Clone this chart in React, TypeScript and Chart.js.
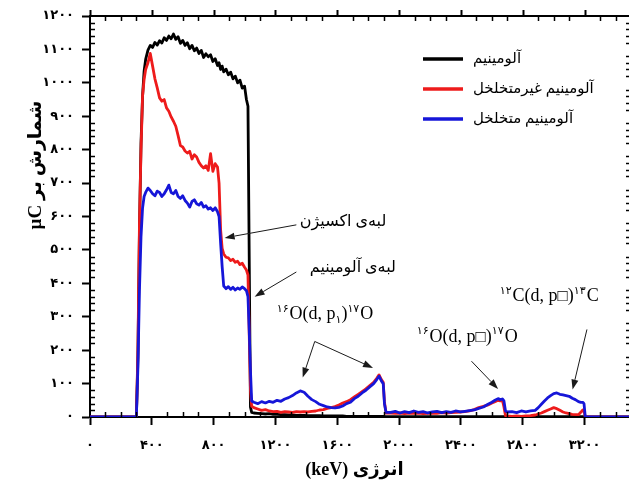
import React, { useEffect, useRef } from 'react';
import { Chart, registerables } from 'chart.js';

Chart.register(...registerables);

// ---------------- data (keV, counts per µC) ----------------
const energy = [
  0, 150, 290, 300, 310, 320, 330, 340, 350, 360,
  375, 390, 405, 420, 435, 450, 465, 480, 495, 510,
  525, 540, 555, 570, 585, 600, 615, 630, 645, 660,
  675, 690, 705, 720, 735, 750, 765, 780, 795, 810,
  825, 835, 845, 855, 865,
  880, 895, 910, 925, 940, 955, 970, 985, 1000,
  1012, 1022, 1030, 1038, 1046,
  1060, 1085, 1110, 1135, 1160, 1185, 1210, 1235, 1260, 1285,
  1310, 1335, 1360, 1385, 1410, 1435, 1460, 1485, 1510, 1535,
  1560, 1585, 1610, 1635, 1660, 1685, 1710, 1735, 1760, 1785,
  1810, 1835, 1855, 1870, 1885, 1897, 1905, 1915,
  1945, 1975, 2005, 2035, 2065, 2095, 2125, 2155, 2185, 2215,
  2245, 2275, 2305, 2335, 2365, 2395, 2425, 2455, 2485, 2515,
  2545, 2575, 2600, 2620, 2640, 2655, 2668, 2678, 2688, 2700,
  2730, 2760, 2790, 2820, 2850, 2880, 2900, 2920, 2940, 2960,
  2980, 3000, 3020, 3040, 3060, 3080, 3100, 3120, 3140, 3160,
  3175, 3188, 3196, 3204, 3250, 3350, 3500,
];

const aluminium = [
  0, 0, 0, 0, 180, 560, 820, 960, 1035, 1070,
  1098, 1112, 1106, 1121, 1113, 1126, 1119, 1135, 1127, 1140,
  1132, 1146, 1130, 1138, 1118, 1127, 1112, 1120, 1102, 1112,
  1096, 1104, 1088, 1097, 1076, 1087, 1078, 1084, 1064, 1072,
  1052, 1060, 1040, 1050, 1033,
  1041, 1024, 1032, 1012, 1020, 1000, 1008, 984, 990,
  950, 930, 480, 30, 14,
  12, 11, 10, 9, 10, 8, 8, 7, 7, 6,
  6, 5, 5, 5, 4, 4, 4, 4, 3, 3,
  3, 3, 3, 3, 2, 2, 2, 2, 2, 2,
  2, 2, 2, 2, 2, 2, 1, 1,
  1, 1, 1, 1, 1, 1, 1, 1, 1, 1,
  1, 1, 1, 1, 1, 1, 1, 1, 1, 1,
  1, 1, 1, 1, 1, 1, 1, 1, 1, 1,
  1, 1, 1, 1, 1, 1, 1, 1, 1, 1,
  1, 1, 1, 1, 1, 1, 1, 1, 1, 1,
  1, 1, 1, 0, 0, 0, 0,
];

const nonPorous = [
  0, 0, 0, 0, 200, 580, 800, 960, 1010, 1040,
  1060, 1088, 1050, 1012, 985, 955, 945, 950, 925, 915,
  898, 885, 870, 842, 812, 808, 796, 790, 795, 772,
  785, 778, 762, 752, 745, 752, 738, 788, 735, 758,
  748, 700, 560, 505, 488,
  478, 476, 468, 472, 463, 466, 456, 460, 448,
  440, 425, 250, 80, 32,
  28, 24, 20, 22, 18, 16, 17, 14, 16, 15,
  14, 16, 15, 16, 15, 17, 18, 21, 22, 26,
  28, 31, 36, 42, 46, 52, 60, 68, 76, 84,
  94, 104, 116, 126, 112, 104, 45, 12,
  12, 11, 12, 10, 12, 11, 12, 10, 11, 12,
  11, 13, 12, 13, 14, 15, 16, 18, 22, 28,
  32, 36, 42, 46, 50, 48, 50, 30, 4, 3,
  2, 3, 2, 3, 4, 6, 9, 12, 16, 20,
  24, 28, 25, 20, 15, 12, 10, 8, 7, 7,
  14, 21, 18, 0, 0, 0, 0,
];

const porous = [
  0, 0, 0, 0, 150, 380, 540, 625, 660, 672,
  685, 678, 668, 662, 676, 672, 660, 668, 680, 694,
  672, 668, 678, 660, 654, 662, 648, 640, 628, 645,
  650, 638, 634, 642, 628, 632, 622, 626, 618, 626,
  614, 600, 520, 450, 392,
  384, 390, 382, 388, 380, 386, 382, 389, 384,
  378, 360, 260, 140, 48,
  44, 40, 46, 42, 47, 44, 50, 47, 54, 58,
  64, 72, 78, 74, 62, 52, 46, 38, 34, 30,
  28, 27, 29, 33, 40, 44, 55, 62, 72, 80,
  90, 100, 112, 122, 108, 100, 40, 14,
  14, 17, 12, 16, 13, 18, 14, 16, 12, 15,
  17, 13, 16, 14, 18, 15, 17, 19, 21, 26,
  30, 38, 44, 50, 55, 52, 54, 48, 18, 15,
  16, 13, 18, 15, 18, 20, 28, 38, 48, 57,
  64, 70, 72, 68, 66, 64, 62, 56, 52, 46,
  44, 44, 40, 1, 0, 0, 0,
];

const seriesLabels = ['آلومینیم', 'آلومینیم غیرمتخلخل', 'آلومینیم متخلخل'];
const seriesColors = ['#000000', '#ee1b1b', '#1616d8'];

const xTickValues = [0, 400, 800, 1200, 1600, 2000, 2400, 2800, 3200];
const yTickValues = [0, 100, 200, 300, 400, 500, 600, 700, 800, 900, 1000, 1100, 1200];
const xMin = 0;
const xMax = 3500;
const xMinor = 100;
const yMin = 0;
const yMax = 1200;
const yMinor = 20;

const xTitle = 'انرژی (keV)';
const yTitle = 'شمارش بر µC';

// edge labels (anchor: left-middle, in keV / counts)
const edgeLabels = [
  { text: 'لبه‌ی اکسیژن', e: 1357, c: 584 },
  { text: 'لبه‌ی آلومینیم', e: 1422, c: 447 },
];

// reaction labels: [text, kind] where kind is '' | 'sup' | 'sub' | 'box'
const reactionLabels = [
  { parts: [['۱۶', 'sup'], ['O(d, p', ''], ['۱', 'sub'], [')', ''], ['۱۷', 'sup'], ['O', '']], e: 1208, c: 306 },
  { parts: [['۱۶', 'sup'], ['O(d, p', ''], ['□', 'box'], [')', ''], ['۱۷', 'sup'], ['O', '']], e: 2114, c: 238 },
  { parts: [['۱۲', 'sup'], ['C(d, p', ''], ['□', 'box'], [')', ''], ['۱۳', 'sup'], ['C', '']], e: 2651, c: 360 },
];

// arrows: [fromKeV, fromCounts, toKeV, toCounts]
const arrows = [
  [1335, 575, 871, 536],
  [1335, 434, 1065, 360],
  [1454, 226, 1376, 118],
  [1454, 226, 1831, 147],
  [2468, 167, 2640, 84],
  [3215, 262, 3122, 82],
];

// ---------------- helpers ----------------
const SERIF = '"Liberation Serif", "Times New Roman", "DejaVu Sans", serif';
const fa = (n: number) => String(n).replace(/[0-9]/g, (d) => '۰۱۲۳۴۵۶۷۸۹'[+d]);

const decorPlugin = {
  id: 'decor',
  afterDraw(chart: any) {
    const { ctx, chartArea: a, scales } = chart;
    const xs = scales.x;
    const ys = scales.y;
    ctx.save();
    ctx.strokeStyle = '#000';
    ctx.fillStyle = '#000';

    // top & right frame
    ctx.lineWidth = 2;
    ctx.beginPath();
    ctx.moveTo(a.left - 1, a.top);
    ctx.lineTo(a.right, a.top);
    ctx.lineTo(a.right, a.bottom);
    ctx.stroke();

    // y minor ticks + right mirrored ticks
    ctx.lineWidth = 1.5;
    for (let v = yMin; v <= yMax; v += yMinor) {
      const py = Math.round(ys.getPixelForValue(v)) + 0.5;
      const major = yTickValues.includes(v);
      ctx.beginPath();
      if (!major) {
        ctx.moveTo(a.left, py);
        ctx.lineTo(a.left + 5, py);
        ctx.moveTo(a.right, py);
        ctx.lineTo(a.right - 5, py);
      } else {
        ctx.moveTo(a.right, py);
        ctx.lineTo(a.right + 8, py);
      }
      ctx.stroke();
    }
    // x minor ticks + top mirrored ticks
    for (let v = xMin; v <= xMax; v += xMinor) {
      const px = Math.round(xs.getPixelForValue(v)) + 0.5;
      if (px > a.right - 2) continue;
      const major = xTickValues.includes(v);
      ctx.beginPath();
      if (!major) {
        ctx.lineWidth = 1.5;
        ctx.moveTo(px, a.bottom);
        ctx.lineTo(px, a.bottom - 5);
        ctx.moveTo(px, a.top);
        ctx.lineTo(px, a.top + 5);
      } else {
        ctx.lineWidth = 2;
        ctx.moveTo(px, a.top);
        ctx.lineTo(px, a.top - 6);
      }
      ctx.stroke();
    }

    // axis titles
    ctx.fillStyle = '#000';
    ctx.textBaseline = 'middle';
    ctx.textAlign = 'center';
    ctx.direction = 'rtl';
    ctx.font = `bold 18px ${SERIF}`;
    ctx.fillText(xTitle, (a.left + a.right) / 2 - 6, 470);
    ctx.save();
    ctx.translate(36, 165);
    ctx.rotate(-Math.PI / 2);
    ctx.font = `bold 19px ${SERIF}`;
    ctx.fillText(yTitle, 0, 0);
    ctx.restore();

    // legend (inside plot, top right)
    const lx0 = a.right - 208;
    const lx1 = a.right - 168;
    chart.data.datasets.forEach((ds: any, i: number) => {
      const ly = a.top + 43 + i * 30;
      ctx.strokeStyle = ds.borderColor;
      ctx.lineWidth = 3.5;
      ctx.beginPath();
      ctx.moveTo(lx0, ly);
      ctx.lineTo(lx1, ly);
      ctx.stroke();
      ctx.fillStyle = '#000';
      ctx.direction = 'rtl';
      ctx.textAlign = 'left';
      ctx.font = `15px ${SERIF}`;
      ctx.fillText(ds.label, lx1 + 10, ly);
    });

    // arrows
    ctx.strokeStyle = '#1a1a1a';
    ctx.fillStyle = '#1a1a1a';
    ctx.lineWidth = 1;
    arrows.forEach(([e0, c0, e1, c1]) => {
      const x0 = xs.getPixelForValue(e0);
      const y0 = ys.getPixelForValue(c0);
      const x1 = xs.getPixelForValue(e1);
      const y1 = ys.getPixelForValue(c1);
      const ang = Math.atan2(y1 - y0, x1 - x0);
      const L = 10;
      const W = 3.5;
      const bx = x1 - L * Math.cos(ang);
      const by = y1 - L * Math.sin(ang);
      ctx.beginPath();
      ctx.moveTo(x0, y0);
      ctx.lineTo(bx, by);
      ctx.stroke();
      ctx.beginPath();
      ctx.moveTo(x1, y1);
      ctx.lineTo(bx + W * Math.sin(ang), by - W * Math.cos(ang));
      ctx.lineTo(bx - W * Math.sin(ang), by + W * Math.cos(ang));
      ctx.closePath();
      ctx.fill();
    });

    // edge labels
    ctx.fillStyle = '#000';
    ctx.direction = 'rtl';
    ctx.textAlign = 'left';
    ctx.font = `16px ${SERIF}`;
    edgeLabels.forEach((l) => {
      ctx.fillText(l.text, xs.getPixelForValue(l.e), ys.getPixelForValue(l.c));
    });

    // reaction labels
    ctx.direction = 'ltr';
    ctx.textAlign = 'left';
    reactionLabels.forEach((l) => {
      let cx = xs.getPixelForValue(l.e);
      const cy = ys.getPixelForValue(l.c);
      l.parts.forEach(([t, kind]) => {
        let size = 18;
        let dy = 0;
        if (kind === 'sup') { size = 11; dy = -6; }
        if (kind === 'sub') { size = 11; dy = 5; }
        if (kind === 'box') { size = 17; dy = 0; }
        ctx.font = `${size}px ${SERIF}`;
        ctx.fillText(t, cx, cy + dy);
        cx += ctx.measureText(t).width + (kind === 'sup' ? 1 : 0);
      });
    });

    ctx.restore();
  },
};

export default function App() {
  const canvasRef = useRef<HTMLCanvasElement | null>(null);

  useEffect(() => {
    document.body.style.margin = '0';
    document.body.style.overflow = 'hidden';
    const canvas = canvasRef.current;
    if (!canvas) return;
    const seriesValues = [aluminium, nonPorous, porous];
    const tickFont = { family: SERIF, size: 13, weight: 'bold' as const };
    const chart = new Chart(canvas, {
      type: 'line',
      data: {
        datasets: seriesValues.map((vals, i) => ({
          label: seriesLabels[i],
          data: energy.map((e, j) => ({ x: e, y: vals[j] })),
          borderColor: seriesColors[i],
          backgroundColor: seriesColors[i],
          borderWidth: 2.8,
          borderJoinStyle: 'round',
          pointRadius: 0,
          tension: 0,
          fill: false,
          order: 2 - i,
        })),
      },
      options: {
        animation: false,
        responsive: false,
        maintainAspectRatio: false,
        devicePixelRatio: 1,
        layout: { autoPadding: false, padding: { top: 16, right: 1, left: 0, bottom: 0 } },
        plugins: { legend: { display: false }, tooltip: { enabled: false } },
        scales: {
          x: {
            type: 'linear',
            min: xMin,
            max: xMax,
            afterBuildTicks: (s: any) => { s.ticks = xTickValues.map((v) => ({ value: v })); },
            afterFit: (s: any) => { s.height = 64; },
            ticks: {
              autoSkip: false,
              maxRotation: 0,
              minRotation: 0,
              padding: 13,
              color: '#000',
              font: tickFont,
              callback: (v: any) => fa(Number(v)),
            },
            grid: { drawOnChartArea: false, drawTicks: true, tickLength: 8, tickWidth: 2, tickColor: '#000' },
            border: { display: true, color: '#000', width: 2 },
          },
          y: {
            type: 'linear',
            min: yMin,
            max: yMax,
            afterBuildTicks: (s: any) => { s.ticks = yTickValues.map((v) => ({ value: v })); },
            afterFit: (s: any) => { s.width = 90; },
            ticks: {
              autoSkip: false,
              padding: 8,
              color: '#000',
              font: tickFont,
              callback: (v: any) => fa(Number(v)),
            },
            grid: { drawOnChartArea: false, drawTicks: true, tickLength: 8, tickWidth: 2, tickColor: '#000' },
            border: { display: true, color: '#000', width: 2 },
          },
        },
      },
      plugins: [decorPlugin],
    } as any);
    return () => chart.destroy();
  }, []);

  return (
    <div style={{ width: 629, height: 481, overflow: 'hidden', background: '#fff' }}>
      <canvas ref={canvasRef} width={632} height={481} style={{ display: 'block', width: 632, height: 481 }} />
    </div>
  );
}
